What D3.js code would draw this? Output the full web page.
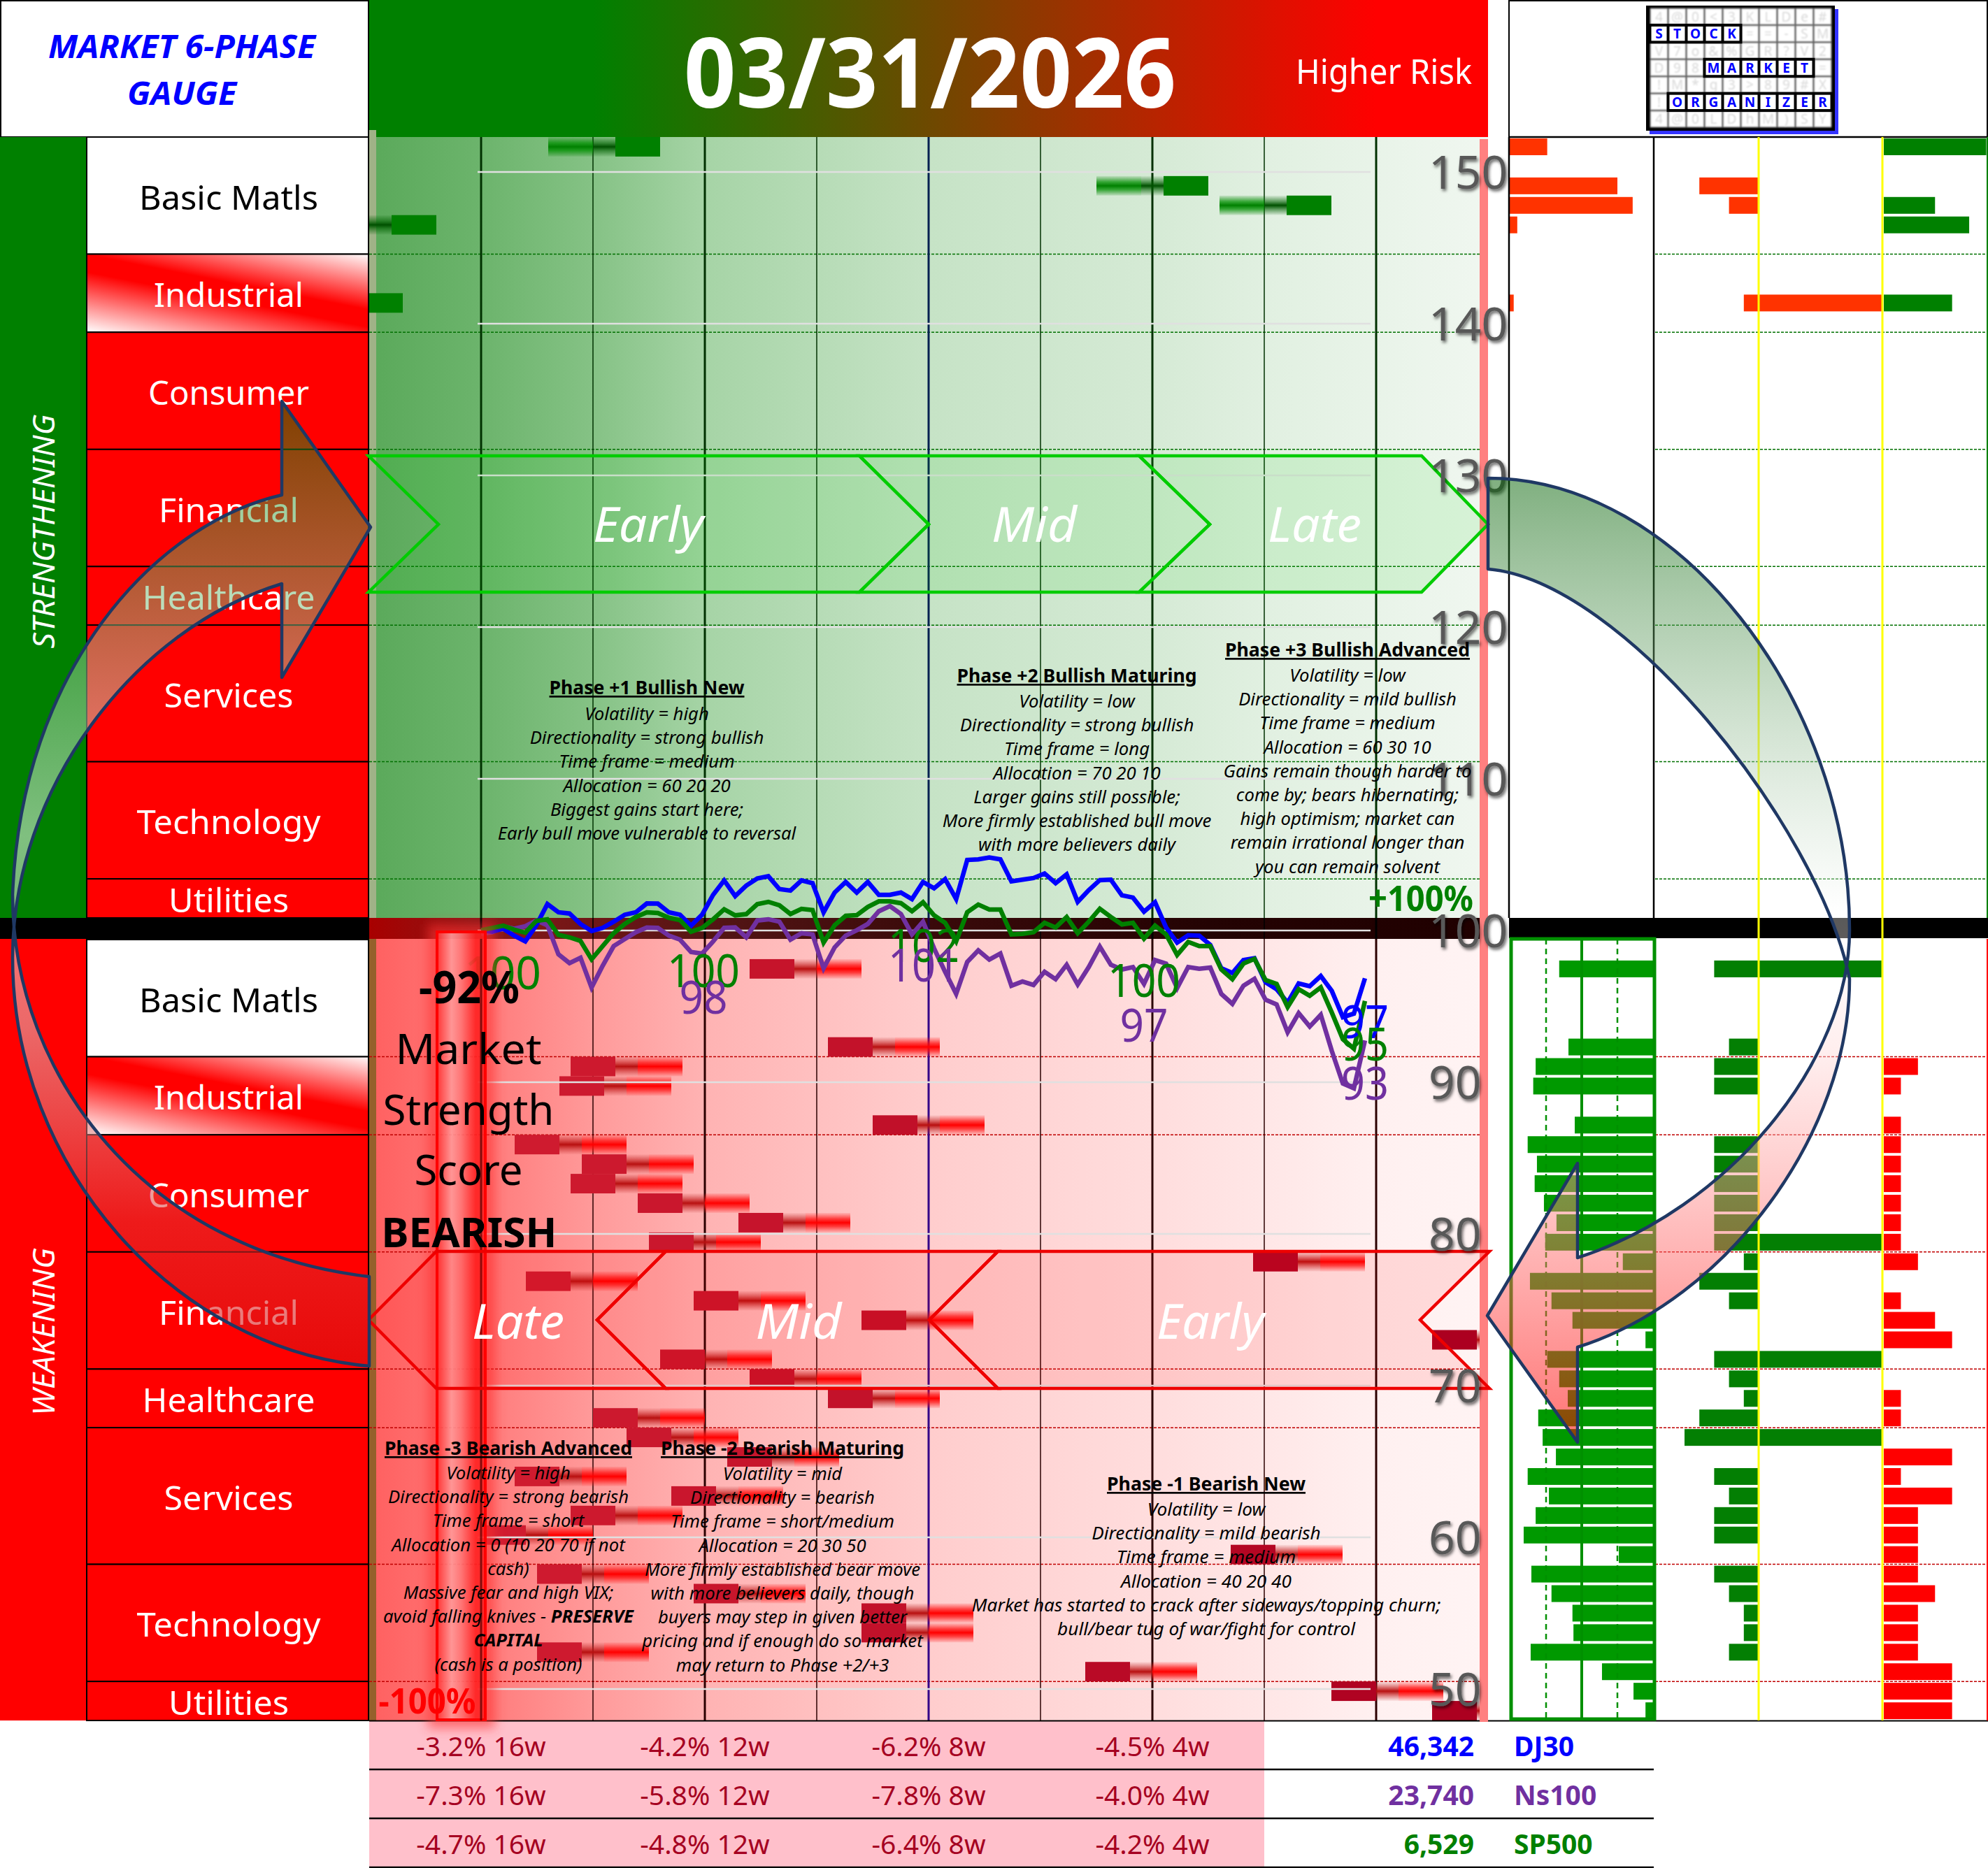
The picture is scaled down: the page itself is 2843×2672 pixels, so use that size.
<!DOCTYPE html>
<html><head><meta charset="utf-8">
<script src="https://cdn.jsdelivr.net/npm/d3@7/dist/d3.min.js"></script>
<style>html,body{margin:0;padding:0;background:#fff}svg{display:block}text{font-family:"Noto Sans",sans-serif}</style>
</head><body><script>
// ---------- data ----------
const sectors = ["Basic Matls","Industrial","Consumer","Financial","Healthcare","Services","Technology","Utilities"];
const sectorRowCounts = [6,4,6,6,3,7,6,2];
const yTicks = [150,140,130,120,110,100,90,80,70,60,50];
const xGridTicks = [-80,-60,-40,-20,0,20,40,60,80];
const dj30 = [100.02,99.92,100.12,99.66,99.28,100.35,101.74,101.2,101.12,100.43,99.97,100.17,100.58,101.04,101.2,101.78,101.77,101.2,101.04,100.32,101.04,102.35,103.3,102.27,102.96,103.43,103.58,102.73,102.63,103.3,103.12,101.2,102.5,103.2,102.5,103.2,102.35,102.35,102.5,102.07,103.2,102.78,103.39,102.07,104.65,104.69,104.81,104.69,103.24,103.35,103.46,103.76,103.12,103.7,101.89,102.66,103.32,103.35,102.32,102.17,101.24,101.86,100.2,99.2,99.69,99.66,99.05,97.51,97.2,98.05,98.17,96.59,96.13,95.25,96.51,96.33,97,96.02,94.29,94.52,96.85];
const sp500 = [100.02,100.17,100.32,100.05,99.86,100.63,100.74,99.71,99.55,99.31,98.1,98.97,99.82,100.43,100.89,101.2,101.15,100.84,100.69,99.92,100.17,100.74,101.4,101,101.08,101.74,101.89,101.66,101.09,101.43,101.35,99.2,100.35,100.97,101.01,101.55,101.92,101.92,101.8,101.27,101.86,101,100.51,99.28,101.2,101.71,101.38,101.38,99.74,99.78,99.89,100.51,100.2,100.89,99.82,100.58,101.43,100.89,100.4,100.51,99.46,100.32,99.74,98.39,99.25,98.97,98.97,97.43,96.79,97.82,98.13,96.74,96.48,94.95,96.13,95.7,96.25,94.59,92.83,92.21,95.36];
const ns100 = [99.77,99.89,100.28,100.12,100.28,100.66,100.35,98.43,97.85,98.2,96.24,97.67,98.97,99.43,99.89,100.2,100.17,99.66,99.4,98.59,98.48,99.28,100.17,100.2,99.55,100.66,100.74,100.58,99.4,99.82,99.74,97.51,98.89,99.66,100.02,100.43,101.27,101.61,101.09,99.74,100.58,98.82,97.28,95.82,97.93,98.69,98.08,98.48,96.36,96.64,96.41,97.28,96.79,97.74,96.44,97.59,98.94,97.74,97.43,97.59,96.48,98.05,97.82,96.21,97.59,97.48,97.56,95.82,95.16,96.36,96.82,95.44,95.13,93.29,94.55,93.67,94.44,92.06,89.91,89.6,92.75];
const n=null;
const topScores = [-56,n,42,64,-96,n,n,n,-102,n,n,n,n,n,n,n,n,n,n,n,n,n,n,n,n,n,n,n,n,n,n,n,n,n,n,n,n,n,n,n];
const bottomScores = [n,-32,n,n,n,-18,-64,-66,n,-10,-74,-62,-64,-52,-34,-50,58,-72,-42,-12,90,-48,-32,-18,-60,-54,-36,-74,-46,-64,-80,54,-70,-42,-12,-12,-70,28,72,90];
const topBreadth = [26.3,0,75.5,86.2,5.3,0,0,0,2.8,0,0,0,0,0,0,0,0,0,0,0,0,0,0,0,0,0,0,0,0,0,0,0,0,0,0,0,0,0,0,0];
const topMid = [0,0,4,2,0,0,0,0,1,0,0,0,0,0,0,0,0,0,0,0,0,0,0,0,0,0,0,0,0,0,0,0,0,0,0,0,0,0,0,0];
const topCross = [0,0,0,0,0,0,0,0,1,0,0,0,0,0,0,0,0,0,0,0,0,0,0,0,0,0,0,0,0,0,0,0,0,0,0,0,0,0,0,0];
const topRight = [6,0,0,3,5,0,0,0,4,0,0,0,0,0,0,0,0,0,0,0,0,0,0,0,0,0,0,0,0,0,0,0,0,0,0,0,0,0,0,0];
const bottomBreadth = [0,65.8,0,0,0,59.3,82.3,84,0,54.9,87.9,81.4,83,76.5,67.7,75.6,21.2,86.3,71.2,56.5,5.3,74.2,65.8,59.8,80.5,77.4,68.1,87.9,73,82.3,90.7,24,85.3,71.2,56.5,55.8,85.8,35.8,13.7,5.3];
const bottomMid = [0,3,0,0,0,2,3,3,0,0,3,3,3,3,3,3,1,4,2,0,0,3,2,1,4,5,0,3,2,3,3,0,3,2,1,1,2,0,0,0];
const bottomCross = [0,1,0,0,0,0,0,0,0,0,0,0,0,0,0,1,0,0,0,0,0,1,0,0,0,1,0,0,0,0,0,0,0,0,0,0,0,0,0,0];
const bottomRight = [0,0,0,0,0,0,2,1,0,1,1,1,1,1,1,1,2,0,1,3,4,0,0,1,1,0,4,1,4,2,2,2,2,3,2,2,2,4,4,4];
const perfRows = [["-3.2% 16w","-4.2% 12w","-6.2% 8w","-4.5% 4w"],["-7.3% 16w","-5.8% 12w","-7.8% 8w","-4.0% 4w"],["-4.7% 16w","-4.8% 12w","-6.4% 8w","-4.2% 4w"]];
const perfTicks = [-80,-40,0,40];
const indexValues = ["46,342","23,740","6,529"];
const indexNames = ["DJ30","Ns100","SP500"];
const logoRows = ["4@0<3KLDe#","STOCK==-SM","V7o&%GR?V2","D98MARKET=","!M*g3>89#X","!ORGANIZER","4@0LDhM)SY"];
const logoWords = [[1,0,5],[3,3,6],[5,1,9]];
const block1 = ["Volatility  = high","Directionality  = strong bullish","Time frame = medium","Allocation = 60 20 20","Biggest gains start here;","Early bull move vulnerable to reversal"];
const block2 = ["Volatility  = low","Directionality  = strong bullish","Time frame = long","Allocation = 70 20 10","Larger gains still possible;","More firmly established bull move","with more believers daily"];
const block3 = ["Volatility  = low","Directionality  = mild bullish","Time frame = medium","Allocation = 60 30 10","Gains remain though harder to","come by; bears hibernating;","high optimism; market can","remain irrational longer than","you can remain solvent"];
const blockM3 = ["Volatility  = high","Directionality  = strong bearish","Time frame = short","Allocation = 0 (10 20 70 if not","cash)","Massive fear and high VIX;","avoid falling knives -  |PRESERVE","|CAPITAL","(cash is a position)"];
const blockM2 = ["Volatility  = mid","Directionality  = bearish","Time frame = short/medium","Allocation = 20 30 50","More firmly established bear move","with more believers daily, though","buyers may step in given better","pricing and if enough do so market","may return to Phase +2/+3"];
const blockM1 = ["Volatility  = low","Directionality  = mild bearish","Time frame = medium","Allocation = 40 20 40","Market has started to crack after sideways/topping churn;","bull/bear tug of war/fight for control"];

// ---------- layout ----------
const W=2843,H=2672,PL=528,PR=2128,TOP=196,TB=1313,BT=1343,BB=2461;
const svg=d3.select("body").append("svg").attr("width",W).attr("height",H).attr("viewBox",`0 0 ${W} ${H}`);
const defs=svg.append("defs");
const y=d3.scaleLinear().domain([100,50]).range([1331,2416]);
const xS=d3.scaleLinear().domain([-100,100]).range([PL,PR]);
const xT=d3.scaleLinear().domain([0,80]).range([688,1952]);
const topRow=d3.scaleBand().domain(d3.range(40)).range([TOP,TB]);
const botRow=d3.scaleBand().domain(d3.range(40)).range([BT+1,BB]);
const xBreadth=d3.scaleLinear().domain([0,100]).range([2364,2160]);
const xBreadthTop=d3.scaleLinear().domain([0,100]).range([2159,2363]);
const xMid=d3.scaleLinear().domain([0,5]).range([2515,2409]);
const xMidR=2692;
const xRight=d3.scaleLinear().domain([0,6]).range([2694,2840.5]);
const sectorTextWidth=[256,214,230,200,247,185,263,172];

function grad(id,stops,o={}){
  const g=defs.append("linearGradient").attr("id",id);
  Object.entries(o).forEach(([k,v])=>g.attr(k,v));
  stops.forEach(s=>g.append("stop").attr("offset",s[0]).attr("stop-color",s[1]).attr("stop-opacity",s[2]===undefined?1:s[2]));
}
const U={gradientUnits:"userSpaceOnUse"};
const V={x1:0,y1:0,x2:0,y2:1};
grad("gTitle",[[0,"#008000"],[.2,"#008000"],[.9,"#ff0000"],[1,"#ff0000"]]);
grad("gTop",[[0,"#5aa95a"],[.1,"#6cb46c"],[.2,"#85c285"],[.3,"#a6d4a6"],[.5,"#c6e3c6"],[.7,"#d5ead5"],[.8,"#e1f0e1"],[1,"#f0f7f0"]]);
grad("gBot",[[0,"#ff6060"],[.1,"#ff7a7a"],[.2,"#ff9a9a"],[.3,"#ffb3b3"],[.4,"#ffc0c0"],[.5,"#ffcdcd"],[.7,"#ffdddd"],[.9,"#fff0f0"],[1,"#fff4f4"]]);
grad("gBand",[[0,"#a80000"],[.1,"#8a1818"],[.3,"#551515"],[.5,"#3a0a0a"],[.75,"#240303"],[1,"#200000"]]);
grad("gInd",[[0,"#fff"],[.42,"#f00"],[.55,"#f00"],[1,"#fff"]],{...U,x1:344,y1:327,x2:308,y2:511});
grad("gInd2",[[0,"#fff"],[.42,"#f00"],[.55,"#f00"],[1,"#fff"]],{...U,x1:344,y1:1474,x2:308,y2:1658});
grad("gStripe",[[0,"#ff3030"],[.3,"#ffa8a8"],[.5,"#ff8080"],[.8,"#ff2020"],[1,"#ff2020"]]);
grad("tRed",[[0,"#ff2020",.1],[.3,"#ff1010",.75],[.5,"#ff0000"],[.7,"#ff1010",.75],[1,"#ff2020",.1]],V);
grad("tDark",[[0,"#c03030",.05],[.3,"#c01818",.6],[.5,"#b81010"],[.7,"#c01818",.6],[1,"#c03030",.05]],V);
grad("tGreen",[[0,"#008000",.1],[.3,"#009000",.75],[.5,"#008000"],[.7,"#009000",.75],[1,"#008000",.1]],V);
grad("tGreenD",[[0,"#006000",.05],[.3,"#006000",.6],[.5,"#005000"],[.7,"#006000",.6],[1,"#006000",.05]],V);
grad("gArrowL",[[0,"#008000",.5],[.45,"#ffffff",.5],[.65,"#d8d0d0",.5],[.85,"#e03030",.55],[1,"#d81010",.6]],{...U,x1:0,y1:574,x2:0,y2:1954});
grad("gArrowR",[[0,"#006000",.5],[.45,"#ffffff",.35],[.6,"#ffd8d8",.45],[1,"#ff0000",.55]],{...U,x1:0,y1:684,x2:0,y2:2063});
defs.append("clipPath").attr("id","plotClip").append("rect").attr("x",PL).attr("y",TOP).attr("width",PR-PL).attr("height",BB-TOP);
defs.append("filter").attr("id","blur").attr("x","-50%").attr("y","-5%").attr("width","200%").attr("height","110%").append("feGaussianBlur").attr("stdDeviation",8);
defs.append("filter").attr("id","softBlur").append("feGaussianBlur").attr("stdDeviation",.9);
const fs=defs.append("filter").attr("id","shadow").attr("x","-20%").attr("y","-20%").attr("width","150%").attr("height","150%");
fs.append("feDropShadow").attr("dx",2).attr("dy",3).attr("stdDeviation",2).attr("flood-color","#000").attr("flood-opacity",.6);

function T(g,s,x,yy,o={}){
  const t=g.append("text").attr("x",x).attr("y",yy).attr("text-anchor",o.anchor||"middle")
    .attr("font-size",o.size||30).attr("fill",o.fill||"#000");
  if(o.bold)t.attr("font-weight",700);
  if(o.italic)t.attr("font-style","italic");
  if(o.len)t.attr("textLength",o.len).attr("lengthAdjust","spacingAndGlyphs");
  if(o.deco)t.attr("text-decoration",o.deco);
  if(o.rot!==undefined)t.attr("transform",`rotate(${o.rot} ${x} ${yy})`);
  t.text(s);return t;
}

// ---------- header ----------
const hdr=svg.append("g");
hdr.append("rect").attr("x",1).attr("y",1).attr("width",526).attr("height",TOP-1).attr("fill","#fff").attr("stroke","#000").attr("stroke-width",2);
T(hdr,"MARKET 6-PHASE",260,83,{size:47,bold:true,italic:true,fill:"#0000ff",len:382});
T(hdr,"GAUGE",260,150,{size:47,bold:true,italic:true,fill:"#0000ff",len:156});
hdr.append("rect").attr("x",PL).attr("y",0).attr("width",PR-PL).attr("height",TOP).attr("fill","url(#gTitle)");
T(hdr,"03/31/2026",1330,154,{size:138,bold:true,fill:"#fff",len:704});
T(hdr,"Higher Risk",1979,120,{size:50,fill:"#fff",len:252});
hdr.append("rect").attr("x",2158).attr("y",1).attr("width",684).attr("height",TOP-1).attr("fill","#fff").attr("stroke","#000").attr("stroke-width",2);

// ---------- logo ----------
const lg=svg.append("g");
const lx=d3.scaleBand().domain(d3.range(10)).range([2359.5,2619.5]);
const ly=d3.scaleBand().domain(d3.range(7)).range([11.5,182.5]);
lg.append("rect").attr("x",2359).attr("y",13).attr("width",270).attr("height",179).attr("fill","#3333ff");
lg.append("rect").attr("x",2354).attr("y",8).attr("width",270).attr("height",179).attr("fill","#000");
logoRows.forEach((row,r)=>row.split("").forEach((ch,c)=>{
  const g=lg.append("g");
  const hit=logoWords.some(w=>w[0]===r&&c>=w[1]&&c<w[1]+w[2]);
  if(!hit){
    g.append("rect").attr("x",lx(c)+1).attr("y",ly(r)+1).attr("width",lx.bandwidth()-2).attr("height",ly.bandwidth()-2).attr("fill","#fff").attr("stroke","#c8c8c8").attr("stroke-width",1.5).attr("filter","url(#softBlur)");
    T(g,ch,lx(c)+lx.bandwidth()/2,ly(r)+ly.bandwidth()/2+7,{size:19,fill:"#d8d8d8"}).attr("filter","url(#softBlur)");
  }
}));
logoWords.forEach(w=>{
  lg.append("rect").attr("x",lx(w[1])-2).attr("y",ly(w[0])-2).attr("width",lx.bandwidth()*w[2]+4).attr("height",ly.bandwidth()+4).attr("fill","#000");
  d3.range(w[2]).forEach(i=>{
    const c=w[1]+i;
    lg.append("rect").attr("x",lx(c)+2).attr("y",ly(w[0])+2).attr("width",lx.bandwidth()-4).attr("height",ly.bandwidth()-4).attr("fill","#fff");
    T(lg,logoRows[w[0]][c],lx(c)+lx.bandwidth()/2,ly(w[0])+ly.bandwidth()/2+7,{size:19,bold:true,fill:"#0000ff"});
  });
});

// ---------- left columns ----------
const leftG=svg.append("g");
leftG.append("rect").attr("x",0).attr("y",TOP).attr("width",124).attr("height",TB-TOP).attr("fill","#008000");
leftG.append("rect").attr("x",0).attr("y",BT).attr("width",124).attr("height",BB-BT).attr("fill","#ff0000");
T(leftG,"STRENGTHENING",78,760,{size:44,italic:true,fill:"#fff",rot:-90,len:335});
T(leftG,"WEAKENING",78,1905,{size:44,italic:true,fill:"#fff",rot:-90,len:240});
function sectorCol(band,gradId){
  let r=0;
  const edges=[];
  sectors.forEach((s,i)=>{
    const a=band(r), b=band(r+sectorRowCounts[i]-1)+band.bandwidth();
    const fill=i===0?"#fff":i===1?`url(#${gradId})`:"#ff0000";
    leftG.append("rect").attr("x",124).attr("y",a).attr("width",403).attr("height",b-a).attr("fill",fill).attr("stroke","#000").attr("stroke-width",2);
    T(leftG,s,327,(a+b)/2+20,{size:48,fill:i===0?"#000":"#fff",len:sectorTextWidth[i]});
    edges.push(a);r+=sectorRowCounts[i];
  });
  return edges.slice(1);
}
const topEdges=sectorCol(topRow,"gInd");
const botEdges=sectorCol(botRow,"gInd2");
leftG.append("rect").attr("x",0).attr("y",TB).attr("width",PL).attr("height",BT-TB).attr("fill","#000");

// ---------- plot background ----------
const plot=svg.append("g");
plot.append("rect").attr("x",PL).attr("y",TOP).attr("width",PR-PL).attr("height",TB-TOP).attr("fill","url(#gTop)");
plot.append("rect").attr("x",PL).attr("y",BT).attr("width",PR-PL).attr("height",BB-BT).attr("fill","url(#gBot)");
plot.append("rect").attr("x",PL).attr("y",TOP-10).attr("width",10).attr("height",TB-TOP+10).attr("fill","#9fb287");
plot.append("rect").attr("x",PL).attr("y",BT).attr("width",10).attr("height",BB-BT).attr("fill","#96602b");
plot.append("rect").attr("x",PL).attr("y",TB).attr("width",PR-PL).attr("height",BT-TB).attr("fill","url(#gBand)");

// row separators
function rowLines(edges,color){
  edges.forEach(v=>{
    [[PL,PR],[2367,W]].forEach(r=>plot.append("line").attr("x1",r[0]).attr("x2",r[1]).attr("y1",v).attr("y2",v).attr("stroke",color).attr("stroke-width",1.5).attr("stroke-dasharray","4 2"));
  });
}
rowLines(topEdges,"#007000");
rowLines(botEdges,"#c00000");

// vertical grid
xGridTicks.forEach(t=>{
  const isMid=t===0, thick=t%40===0;
  [[TOP,TB,"#003000","#002050"],[TB,BT,"#000","#200040"],[BT,BB,"#2a0000","#330088"]].forEach(s=>{
    plot.append("line").attr("x1",xS(t)).attr("x2",xS(t)).attr("y1",s[0]).attr("y2",s[1])
     .attr("stroke",isMid?s[3]:s[2]).attr("stroke-width",isMid?3:thick?3:1.5);
  });
});

// ---------- sector markers ----------
const mk=plot.append("g").attr("clip-path","url(#plotClip)");
const darkScale=d3.scaleLinear().domain([-80,90]).range(["#d01c30","#ac0020"]);
bottomScores.forEach((s,i)=>{
  if(s===null)return;
  const x=xS(s),yy=botRow(i),h=botRow.bandwidth();
  mk.append("rect").attr("x",x+64).attr("y",yy).attr("width",32).attr("height",h).attr("fill","url(#tDark)");
  mk.append("rect").attr("x",x+96).attr("y",yy).attr("width",64).attr("height",h).attr("fill","url(#tRed)");
  mk.append("rect").attr("x",x).attr("y",yy).attr("width",64).attr("height",h).attr("fill",darkScale(s));
});
topScores.forEach((s,i)=>{
  if(s===null)return;
  const x=xS(s),yy=topRow(i),h=topRow.bandwidth();
  mk.append("rect").attr("x",x-96).attr("y",yy).attr("width",64).attr("height",h).attr("fill","url(#tGreen)");
  mk.append("rect").attr("x",x-32).attr("y",yy).attr("width",32).attr("height",h).attr("fill","url(#tGreenD)");
  mk.append("rect").attr("x",x).attr("y",yy).attr("width",64).attr("height",h).attr("fill","#008000");
});

// horizontal value grid
yTicks.forEach(v=>plot.append("line").attr("x1",683).attr("x2",1960).attr("y1",y(v)).attr("y2",y(v)).attr("stroke","#e0e0e0").attr("stroke-width",2.5));

// ---------- series ----------
const line=d3.line().x((d,i)=>xT(i)).y(d=>y(d));
[[ns100,"#7030a0"],[dj30,"#0000ff"],[sp500,"#008000"]].forEach(s=>{
  plot.append("path").attr("d",line(s[0])).attr("fill","none").attr("stroke",s[1]).attr("stroke-width",6.5).attr("stroke-linejoin","miter");
});

// ---------- performance table ----------
const tb=svg.append("g");
const rowTop=d3.scaleBand().domain([0,1,2]).range([BB,2671]);
tb.append("rect").attr("x",PL).attr("y",BB).attr("width",1808-PL).attr("height",2671-BB).attr("fill","#ffc0cb");
perfRows.forEach((r,i)=>{
  const cy=rowTop(i)+rowTop.bandwidth()/2;
  r.forEach((s,j)=>T(tb,s,xS(perfTicks[j]),cy+16,{size:39,fill:"#a50021"}));
  tb.append("line").attr("x1",PL).attr("x2",2365).attr("y1",rowTop(i)+rowTop.bandwidth()).attr("y2",rowTop(i)+rowTop.bandwidth()).attr("stroke","#000").attr("stroke-width",2.5);
  const col=["#0000ff","#7030a0","#008000"][i];
  T(tb,indexValues[i],2108,cy+16,{size:39,bold:true,fill:col,anchor:"end"});
  T(tb,indexNames[i],2165,cy+16,{size:39,bold:true,fill:col,anchor:"start"});
});

// ---------- right panels ----------
const rp=svg.append("g");
const barH=24;
const offs=2;
topBreadth.forEach((v,i)=>{ if(v>0) rp.append("rect").attr("x",xBreadthTop(0)).attr("y",topRow(i)+offs).attr("width",xBreadthTop(v)-xBreadthTop(0)).attr("height",barH).attr("fill","#ff3300"); });
topMid.forEach((v,i)=>{ if(v>0) rp.append("rect").attr("x",xMid(v)).attr("y",topRow(i)+offs).attr("width",xMid(0)-xMid(v)).attr("height",barH).attr("fill","#ff3300"); });
topCross.forEach((v,i)=>{ if(v) rp.append("rect").attr("x",xMid(0)).attr("y",topRow(i)+offs).attr("width",xMidR-xMid(0)).attr("height",barH).attr("fill","#ff3300"); });
topRight.forEach((v,i)=>{ if(v>0) rp.append("rect").attr("x",xRight(0)).attr("y",topRow(i)+offs).attr("width",xRight(v)-xRight(0)).attr("height",barH).attr("fill","#008000"); });
bottomBreadth.forEach((v,i)=>{ if(v>0) rp.append("rect").attr("x",xBreadth(v)).attr("y",botRow(i)+offs).attr("width",xBreadth(0)-xBreadth(v)).attr("height",barH).attr("fill","#009900"); });
bottomMid.forEach((v,i)=>{ if(v>0) rp.append("rect").attr("x",xMid(v)).attr("y",botRow(i)+offs).attr("width",xMid(0)-xMid(v)).attr("height",barH).attr("fill","#037f03"); });
bottomCross.forEach((v,i)=>{ if(v) rp.append("rect").attr("x",xMid(0)).attr("y",botRow(i)+offs).attr("width",xMidR-xMid(0)).attr("height",barH).attr("fill","#037f03"); });
bottomRight.forEach((v,i)=>{ if(v>0) rp.append("rect").attr("x",xRight(0)).attr("y",botRow(i)+offs).attr("width",xRight(v)-xRight(0)).attr("height",barH).attr("fill","#ff0000"); });
// panel frames
rp.append("line").attr("x1",2158).attr("x2",2158).attr("y1",TOP).attr("y2",TB).attr("stroke","#000").attr("stroke-width",2.5);
rp.append("line").attr("x1",2365).attr("x2",2365).attr("y1",TOP).attr("y2",TB).attr("stroke","#000").attr("stroke-width",2.5);
rp.append("line").attr("x1",2158).attr("x2",W).attr("y1",TOP).attr("y2",TOP).attr("stroke","#000").attr("stroke-width",2.5);
rp.append("line").attr("x1",PL).attr("x2",W).attr("y1",BB+.5).attr("y2",BB+.5).attr("stroke","#000").attr("stroke-width",2);
rp.append("rect").attr("x",2158).attr("y",TB).attr("width",W-2158).attr("height",BT-TB-1).attr("fill","#000");
rp.append("line").attr("x1",W-1).attr("x2",W-1).attr("y1",TOP).attr("y2",TB).attr("stroke","#008000").attr("stroke-width",2);
rp.append("line").attr("x1",W-1).attr("x2",W-1).attr("y1",BT).attr("y2",BB).attr("stroke","#ff0000").attr("stroke-width",2);
[xMid(0),xMidR].forEach(x=>rp.append("line").attr("x1",x).attr("x2",x).attr("y1",TOP).attr("y2",BB).attr("stroke","#ffff00").attr("stroke-width",3));
// breadth panel frame
rp.append("rect").attr("x",2161).attr("y",BT).attr("width",205).attr("height",BB-BT-2).attr("fill","none").attr("stroke","#009000").attr("stroke-width",5);
rp.append("line").attr("x1",xBreadth(50)).attr("x2",xBreadth(50)).attr("y1",BT).attr("y2",BB).attr("stroke","#009000").attr("stroke-width",4);
[25,75].forEach(v=>rp.append("line").attr("x1",xBreadth(v)).attr("x2",xBreadth(v)).attr("y1",BT).attr("y2",BB).attr("stroke","#009000").attr("stroke-width",2.5).attr("stroke-dasharray","8 6"));

// ---------- first series label sits under the bearish stripe ----------
const labelSize=66;
const sl0=svg.append("g");
T(sl0,"100",719,1415,{size:labelSize,fill:"#008000",len:110});

// ---------- bearish stripe and the right-hand strip ----------
const st=svg.append("g");
st.append("rect").attr("x",612).attr("y",1322).attr("width",96).attr("height",1150).attr("fill","#ff3030").attr("opacity",.6).attr("filter","url(#blur)");
st.append("rect").attr("x",625).attr("y",1333).attr("width",69).attr("height",1127).attr("fill","url(#gStripe)").attr("fill-opacity",.8).attr("stroke","#ff0000").attr("stroke-width",4);
st.append("line").attr("x1",xS(-80)).attr("x2",xS(-80)).attr("y1",BT).attr("y2",BB).attr("stroke","#400000").attr("stroke-width",3).attr("opacity",.6);
st.append("rect").attr("x",2116).attr("y",TOP+3).attr("width",12).attr("height",BB-TOP-1).attr("fill","#ff8080");

// ---------- chevrons ----------
const ch=svg.append("g");
const chev=(pts,stroke,fill,w)=>ch.append("polygon").attr("points",pts.map(p=>p.join(",")).join(" ")).attr("fill",fill).attr("stroke",stroke).attr("stroke-width",w).attr("stroke-linejoin","miter");
const gf="rgba(0,205,0,0.10)",rf="rgba(255,0,0,0.10)";
chev([[527,652],[1229,652],[1328,750],[1229,847],[527,847],[627,750]],"#00cc00",gf,4.5);
chev([[1229,652],[1629,652],[1730,750],[1629,847],[1229,847],[1328,750]],"#00cc00",gf,4.5);
chev([[1629,652],[2033,652],[2128,750],[2033,847],[1629,847],[1730,750]],"#00cc00",gf,4.5);
chev([[527,1888],[624,1790],[952,1790],[854,1888],[952,1986],[624,1986]],"#ee0000",rf,4.5);
chev([[854,1888],[952,1790],[1427,1790],[1329,1888],[1427,1986],[952,1986]],"#ee0000",rf,4.5);
chev([[1329,1888],[1427,1790],[2130,1790],[2031,1888],[2130,1986],[1427,1986]],"#ee0000",rf,4.5);
const chevText=[["Early",927,775,158],["Mid",1479,775,122],["Late",1880,775,134],["Late",741,1915,132],["Mid",1142,1915,123],["Early",1731,1915,154]];
chevText.forEach(c=>T(ch,c[0],c[1],c[2],{size:70,italic:true,fill:"#fff",len:c[3]}));

// ---------- axis labels ----------
const ax=svg.append("g").attr("transform","translate(2043,0)").call(d3.axisRight(y).tickValues(yTicks).tickSize(0).tickPadding(0));
ax.select(".domain").remove();
ax.selectAll("text").attr("font-size",66).attr("fill","#595959").attr("font-family","Noto Sans").attr("filter","url(#shadow)").attr("dy","0.35em");

// ---------- series end labels ----------
const sl=svg.append("g");
[["100",1006,1388,"#008000",104],["98",1006,1426,"#7030a0",69],["102",1321,1352,"#008000",102],["101",1321,1380,"#7030a0",102],["100",1636,1402,"#008000",104],["97",1636,1466,"#7030a0",69],["97",1952,1461,"#0000ff",68],["95",1952,1493,"#008000",68],["93",1952,1549,"#7030a0",68]]
 .forEach(a=>T(sl,a[0],a[1],a[2]+24,{size:labelSize,fill:a[3],len:a[4]}));
T(sl,"+100%",2032,1303,{size:50,bold:true,fill:"#008000",len:150});

// ---------- score box ----------
const sc=svg.append("g");
T(sc,"-92%",671,1435,{size:64,bold:true,len:144});
T(sc,"Market",670,1522,{size:60,len:209});
T(sc,"Strength",670,1609,{size:60,len:245});
T(sc,"Score",670,1695,{size:60,len:155});
T(sc,"BEARISH",671,1784,{size:60,bold:true,len:251});
T(sc,"-100%",611,2451,{size:50,bold:true,fill:"#ff0000",len:139});

// ---------- phase text ----------
const ph=svg.append("g");
function block(title,cx,ty,lines,y0,step,tl,fsz=25.7){
  T(ph,title,cx,ty,{size:27,bold:true,deco:"underline",len:tl});
  lines.forEach((l,i)=>{
    const t=ph.append("text").attr("x",cx).attr("y",y0+step*i).attr("text-anchor","middle").attr("font-size",fsz).attr("font-style","italic").attr("fill","#000");
    const parts=l.split("|");
    parts.forEach((p,k)=>{ const s=t.append("tspan").text(p); if(k===1)s.attr("font-weight",700); });
  });
}
block("Phase +1 Bullish New",925,993,block1,1030,34.2,279);
block("Phase +2 Bullish Maturing",1540,976,block2,1012,34.2,343);
block("Phase +3 Bullish Advanced",1927,939,block3,975,34.2,350);
block("Phase -3 Bearish Advanced",727,2081,blockM3,2116,34.2,354);
block("Phase -2 Bearish Maturing",1119,2081,blockM2,2117,34.2,348);
block("Phase -1 Bearish New",1725,2132,blockM1,2168,34.2,284,26.2);

// ---------- curved arrows ----------
const ar=svg.append("g");
function bandArrow(ctx){ return ctx; }
const lp=d3.path();
lp.moveTo(403,708);
lp.bezierCurveTo(220,750,30,960,18,1280);
lp.bezierCurveTo(18,1540,210,1790,528,1826);
lp.lineTo(528,1954);
lp.bezierCurveTo(250,1930,18,1670,18,1370);
lp.bezierCurveTo(18,1130,190,900,403,835);
lp.lineTo(403,969);lp.lineTo(530,754);lp.lineTo(403,574);lp.closePath();
ar.append("path").attr("d",lp.toString()).attr("fill","url(#gArrowL)").attr("stroke","#1f3864").attr("stroke-width",4.5).attr("stroke-linejoin","round");
const rp2=d3.path();
rp2.moveTo(2128,684);
rp2.bezierCurveTo(2400,684,2645,1000,2645,1330);
rp2.bezierCurveTo(2645,1520,2470,1730,2256,1799);
rp2.lineTo(2256,1664);rp2.lineTo(2127,1882);rp2.lineTo(2256,2063);rp2.lineTo(2256,1927);
rp2.bezierCurveTo(2470,1860,2645,1620,2645,1400);
rp2.bezierCurveTo(2600,1180,2320,830,2128,814);
rp2.closePath();
ar.append("path").attr("d",rp2.toString()).attr("fill","url(#gArrowR)").attr("stroke","#1f3864").attr("stroke-width",4.5).attr("stroke-linejoin","round");
</script></body></html>
